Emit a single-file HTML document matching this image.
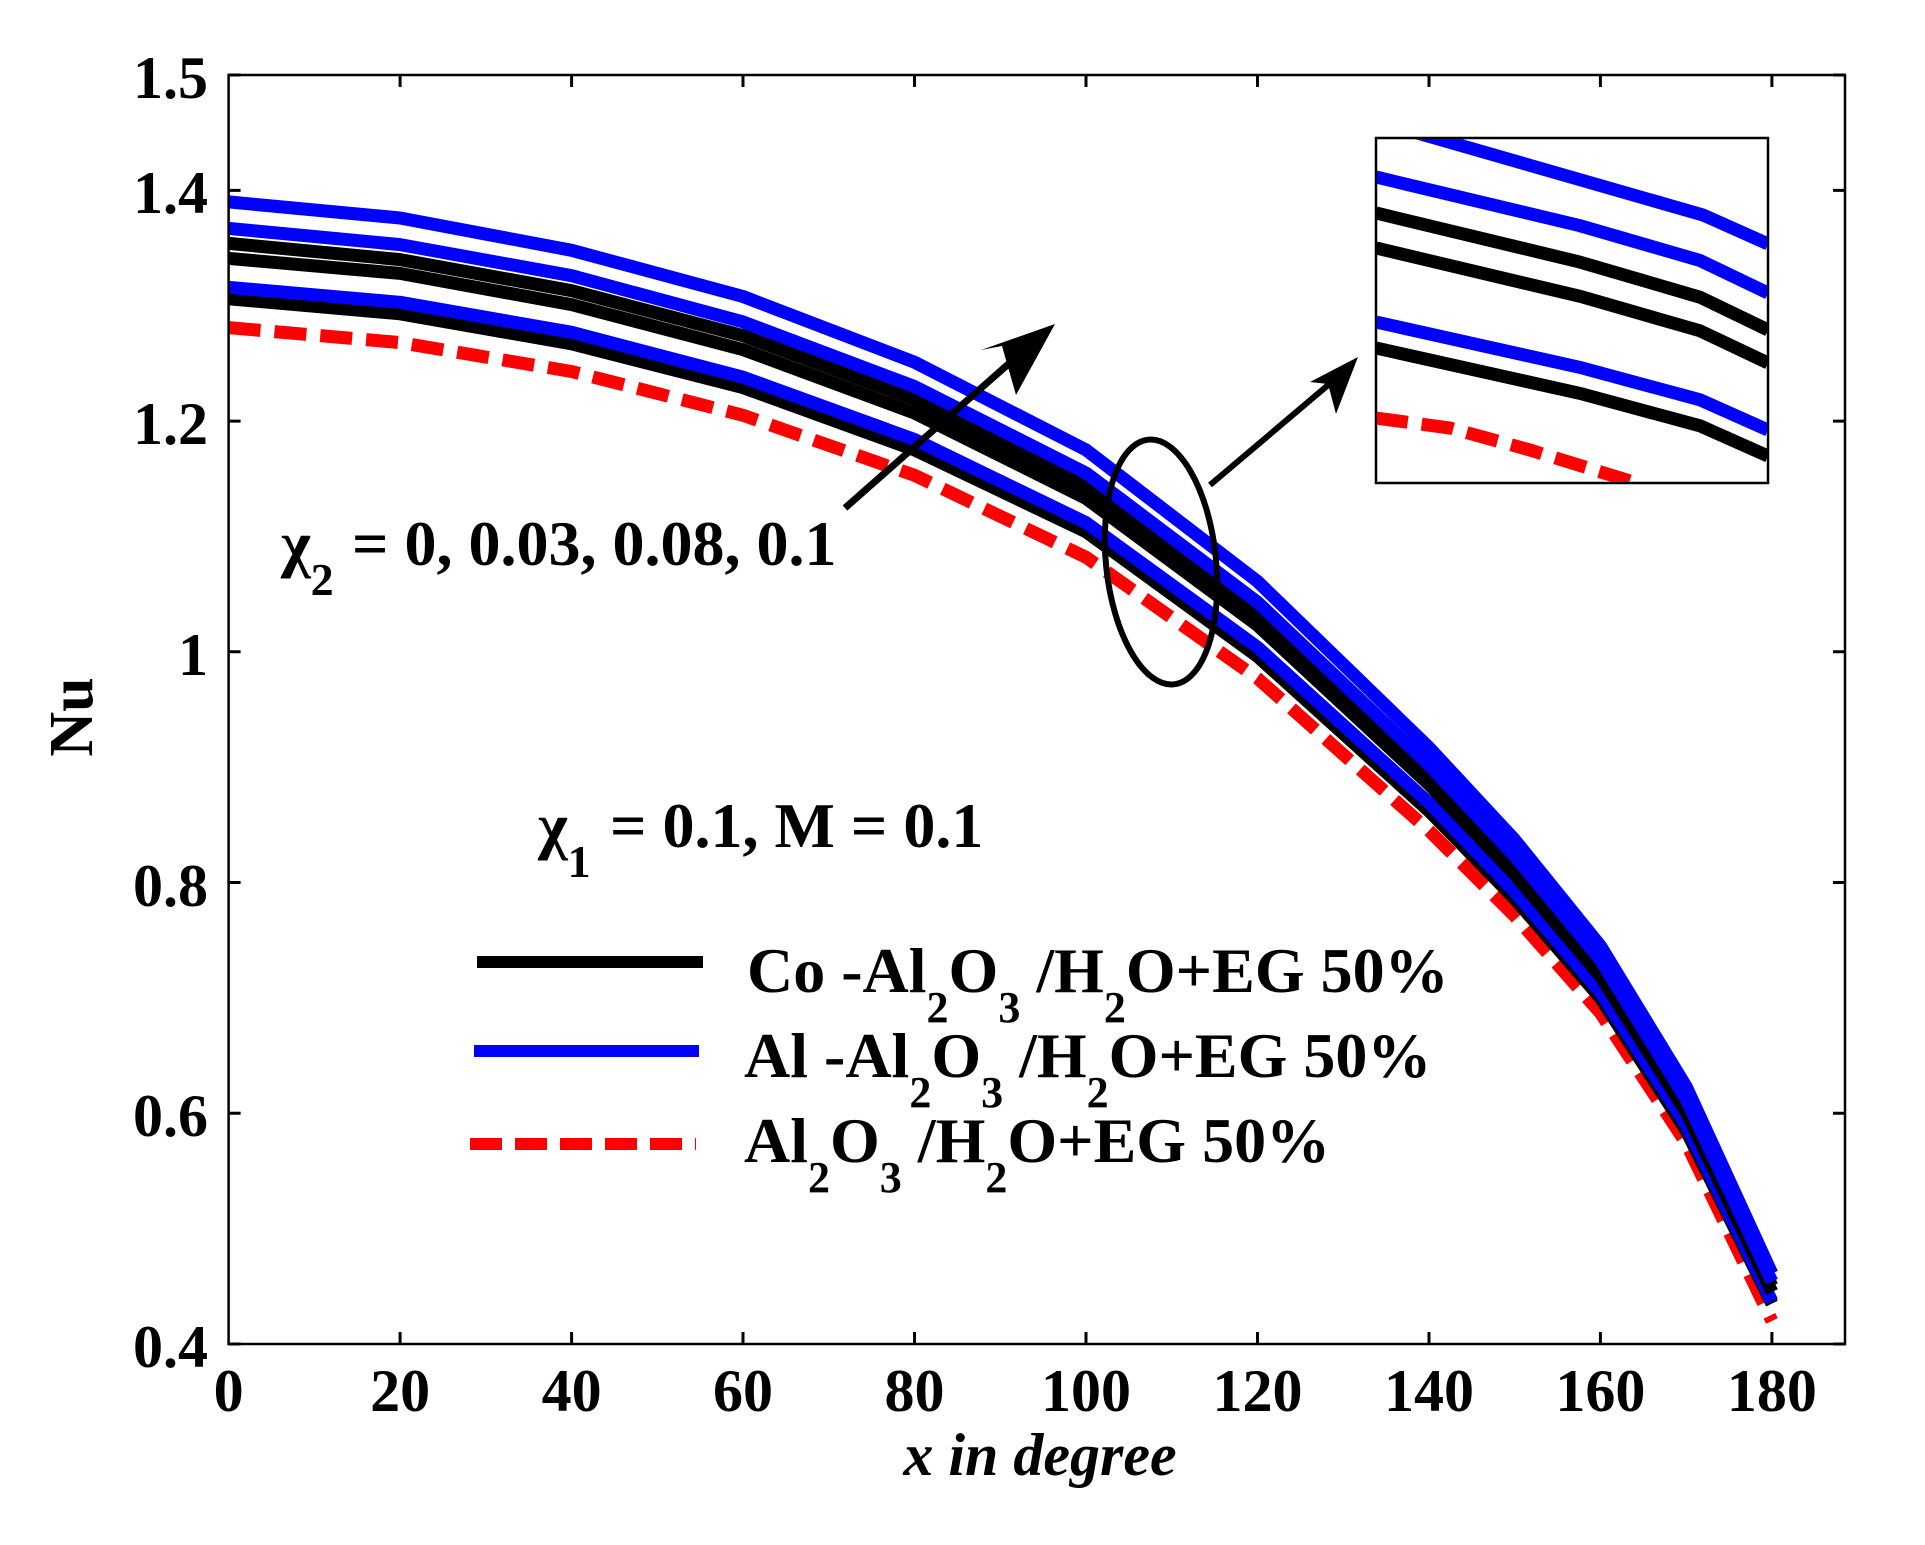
<!DOCTYPE html>
<html><head><meta charset="utf-8"><style>html,body{margin:0;padding:0;background:#fff}svg{display:block}</style></head>
<body>
<svg width="1925" height="1545" viewBox="0 0 1925 1545" xmlns="http://www.w3.org/2000/svg" font-family="'Liberation Serif', serif" font-weight="bold">
<rect width="1925" height="1545" fill="#fff"/>
<g fill="none" stroke-width="13" stroke-linejoin="round">
<path stroke="#f00" stroke-dasharray="32,14" d="M228.6,327.6L400.1,342.6L571.6,371.5L743,415.3L914.5,475.3L1086,557.2L1257.5,678.3L1429,830.6L1514.7,916L1600.4,1012.9L1686.2,1143.2L1771.9,1320.9"/>
<path stroke="#000" d="M228.6,298.8L400.1,313.8L571.6,343.8L743,387.6L914.5,449.9L1086,531.8L1257.5,656.4L1429,811L1514.7,898.7L1600.4,997.9L1686.2,1130.6L1771.9,1303.6"/>
<path stroke="#00f" d="M228.6,287.3L400.1,302.3L571.6,332.3L743,377.2L914.5,439.5L1086,522.6L1257.5,647.2L1429,802.9L1514.7,891.7L1600.4,992.1L1686.2,1124.8L1771.9,1301.3"/>
<path stroke="#000" d="M228.6,258.4L400.1,273.4L571.6,304.6L743,349.6L914.5,413L1086,498.4L1257.5,625.3L1429,784.5L1514.7,874.4L1600.4,976L1686.2,1112.1L1771.9,1292"/>
<path stroke="#000" d="M228.6,243.4L400.1,259.6L571.6,290.7L743,335.7L914.5,399.2L1086,485.7L1257.5,613.7L1429,774.1L1514.7,865.2L1600.4,967.9L1686.2,1105.2L1771.9,1286.2"/>
<path stroke="#00f" d="M228.6,228.4L400.1,244.6L571.6,275.7L743,321.9L914.5,386.5L1086,473L1257.5,602.2L1429,764.9L1514.7,856L1600.4,959.8L1686.2,1099.4L1771.9,1281.7"/>
<path stroke="#00f" d="M228.6,201.9L400.1,218L571.6,250.3L743,296.5L914.5,362.2L1086,449.9L1257.5,581.4L1429,747.5L1514.7,839.8L1600.4,945.9L1686.2,1086.7L1771.9,1273.6"/>
</g>
<rect x="228.6" y="75" width="1616.4" height="1269" fill="none" stroke="#000" stroke-width="2.5"/>
<g stroke="#000" stroke-width="3">
<path d="M400.1,1344v-12M571.6,1344v-12M743,1344v-12M914.5,1344v-12M1086,1344v-12M1257.5,1344v-12M1429,1344v-12M1600.4,1344v-12M1771.9,1344v-12"/>
<path d="M400.1,75v12M571.6,75v12M743,75v12M914.5,75v12M1086,75v12M1257.5,75v12M1429,75v12M1600.4,75v12M1771.9,75v12"/>
<path d="M228.6,75h12M228.6,190.4h12M228.6,421.1h12M228.6,651.8h12M228.6,882.5h12M228.6,1113.2h12M228.6,1344h12"/>
<path d="M1845,75h-12M1845,190.4h-12M1845,421.1h-12M1845,651.8h-12M1845,882.5h-12M1845,1113.2h-12M1845,1344h-12"/>
</g>
<!-- inset -->
<rect x="1376" y="138" width="392" height="345" fill="#fff" stroke="#000" stroke-width="2.5"/>
<clipPath id="ic"><rect x="1377" y="139" width="390" height="343"/></clipPath>
<g clip-path="url(#ic)" fill="none" stroke-width="13">
<path stroke="#00f" d="M1376,322L1580,367.4L1700,399.8L1768,430"/>
<path stroke="#000" d="M1376,348L1580,393.4L1700,425.8L1768,456"/>
<path stroke="#000" d="M1376,248L1580,296.3L1700,330.8L1768,363"/>
<path stroke="#000" d="M1376,213L1580,262.1L1700,297.2L1768,330"/>
<path stroke="#00f" d="M1376,177L1580,225.7L1700,260.5L1768,293"/>
<path stroke="#00f" d="M1400,128L1703,215L1768,244"/>
<path stroke="#f00" stroke-dasharray="32,14" d="M1376,418L1450,428L1530,450L1643,485"/>
</g>
<!-- ellipse and arrows -->
<ellipse cx="1161" cy="562" rx="55" ry="123" transform="rotate(-6 1161 562)" fill="none" stroke="#000" stroke-width="6"/>
<line x1="845" y1="508" x2="1030" y2="345" stroke="#000" stroke-width="7"/>
<polygon points="1055,324 1016,395 1002,346 981,350" fill="#000"/>
<line x1="1210" y1="485" x2="1340" y2="375" stroke="#000" stroke-width="6"/>
<polygon points="1358,357 1336,414 1328,384 1310,382" fill="#000"/>
<!-- tick labels -->
<g font-size="60" text-anchor="end">
<text x="208" y="98">1.5</text>
<text x="208" y="213">1.4</text>
<text x="208" y="444">1.2</text>
<text x="208" y="675">1</text>
<text x="208" y="906">0.8</text>
<text x="208" y="1136">0.6</text>
<text x="208" y="1367">0.4</text>
</g>
<g font-size="60" text-anchor="middle">
<text x="228.6" y="1411">0</text>
<text x="400.1" y="1411">20</text>
<text x="571.6" y="1411">40</text>
<text x="743" y="1411">60</text>
<text x="914.5" y="1411">80</text>
<text x="1086" y="1411">100</text>
<text x="1257.5" y="1411">120</text>
<text x="1429" y="1411">140</text>
<text x="1600.4" y="1411">160</text>
<text x="1771.9" y="1411">180</text>
</g>
<text transform="translate(92,717) rotate(-90)" font-size="62" text-anchor="middle">Nu</text>
<text x="1040" y="1475" font-size="60" font-style="italic" text-anchor="middle">x in degree</text>
<!-- annotations -->
<text x="281" y="565" font-size="64">χ<tspan font-size="46" dy="30">2</tspan><tspan dy="-30" x="352">= 0, 0.03, 0.08, 0.1</tspan></text>
<text x="538" y="847" font-size="64">χ<tspan font-size="46" dy="30">1</tspan><tspan dy="-30" x="610">= 0.1, M = 0.1</tspan></text>
<!-- legend -->
<line x1="477" y1="962" x2="703" y2="962" stroke="#000" stroke-width="12"/>
<line x1="474" y1="1051" x2="699" y2="1051" stroke="#0000ff" stroke-width="12"/>
<line x1="470" y1="1144" x2="696" y2="1144" stroke="#ff0000" stroke-width="12" stroke-dasharray="32,13"/>
<g font-size="64">
<text x="747" y="992">Co -Al<tspan font-size="44" dy="30">2</tspan><tspan dy="-30">O</tspan><tspan font-size="44" dy="30">3</tspan><tspan dy="-30"> /H</tspan><tspan font-size="44" dy="30">2</tspan><tspan dy="-30">O+EG 50%</tspan></text>
<text x="744" y="1077">Al -Al<tspan font-size="44" dy="30">2</tspan><tspan dy="-30">O</tspan><tspan font-size="44" dy="30">3</tspan><tspan dy="-30"> /H</tspan><tspan font-size="44" dy="30">2</tspan><tspan dy="-30">O+EG 50%</tspan></text>
<text x="744" y="1162">Al<tspan font-size="44" dy="30">2</tspan><tspan dy="-30">O</tspan><tspan font-size="44" dy="30">3</tspan><tspan dy="-30"> /H</tspan><tspan font-size="44" dy="30">2</tspan><tspan dy="-30">O+EG 50%</tspan></text>
</g>
</svg>
</body></html>
